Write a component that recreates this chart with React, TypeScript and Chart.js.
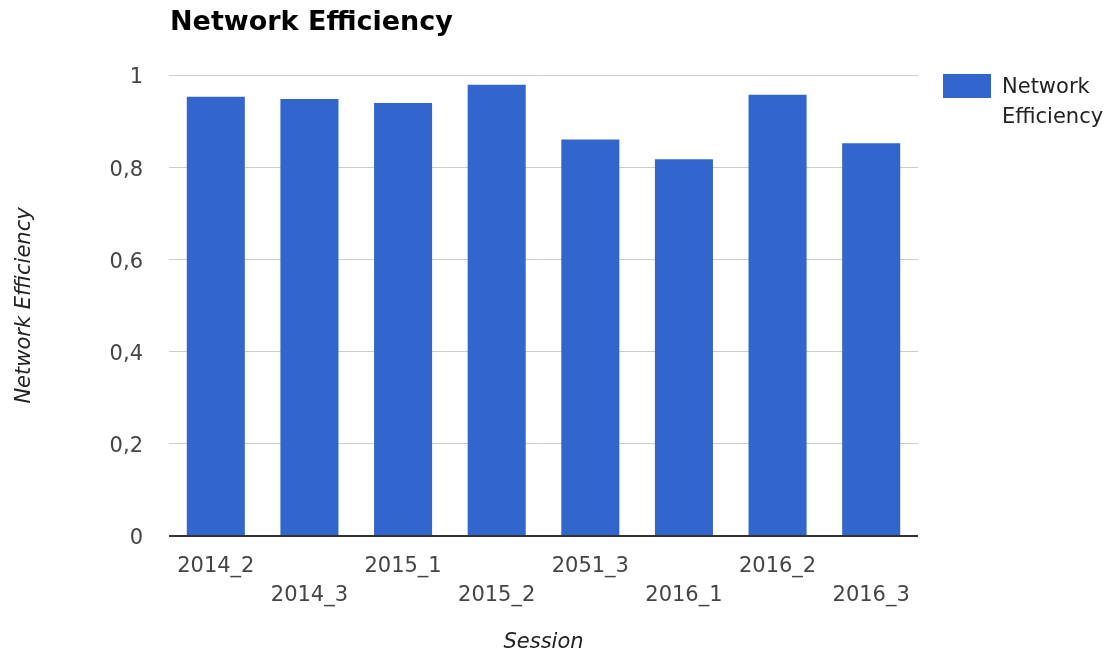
import React, { useEffect, useRef } from "react";
import { Chart, registerables } from "chart.js";

Chart.register(...registerables);

const chartTitle = "Network Efficiency";
const seriesName = "Network Efficiency";
const legendLines = ["Network", "Efficiency"];
const xAxisTitle = "Session";
const yAxisTitle = "Network Efficiency";
const sessions = ["2014_2", "2014_3", "2015_1", "2015_2", "2051_3", "2016_1", "2016_2", "2016_3"];
const efficiency = [0.953, 0.948, 0.939, 0.979, 0.86, 0.817, 0.957, 0.852];
const yTicks = [0, 0.2, 0.4, 0.6, 0.8, 1];

const FONT = "'DejaVu Sans', sans-serif";
const BAR_COLOR = "#3366cc";

const overlayPlugin = {
  id: "overlayText",
  afterDraw(chart: any) {
    const ctx = chart.ctx;
    ctx.save();
    // Title
    ctx.fillStyle = "#000000";
    ctx.font = `bold 27px ${FONT}`;
    ctx.textAlign = "left";
    ctx.textBaseline = "alphabetic";
    ctx.fillText(chartTitle, 170, 30);
    // Legend
    const ds = chart.data.datasets[0];
    ctx.fillStyle = ds.backgroundColor;
    ctx.fillRect(943, 74, 48, 24);
    ctx.fillStyle = "#222222";
    ctx.font = `21px ${FONT}`;
    legendLines.forEach((line, i) => {
      ctx.fillText(line, 1002, 93 + i * 30);
    });
    ctx.restore();
  },
};

export default function App() {
  const ref = useRef<HTMLCanvasElement | null>(null);
  useEffect(() => {
    document.body.style.margin = "0";
    const labels = sessions.map((s, i) => (i % 2 === 0 ? [s] : ["", s]));
    const chart = new Chart(ref.current as HTMLCanvasElement, {
      type: "bar",
      data: {
        labels,
        datasets: [
          {
            label: seriesName,
            data: efficiency,
            backgroundColor: BAR_COLOR,
            borderWidth: 0,
            barPercentage: 0.62,
            categoryPercentage: 1.0,
          },
        ],
      },
      options: {
        responsive: false,
        animation: false,
        layout: { padding: { top: 75, right: 191, left: 0, bottom: 0 } },
        plugins: {
          legend: { display: false },
          title: { display: false },
          tooltip: { enabled: false },
        },
        scales: {
          x: {
            grid: { display: false, drawTicks: false },
            border: { display: false },
            ticks: {
              autoSkip: false,
              maxRotation: 0,
              minRotation: 0,
              padding: 16,
              color: "#444444",
              font: { family: FONT, size: 21, lineHeight: 1.38 },
            },
            title: {
              display: true,
              text: xAxisTitle,
              color: "#222222",
              font: { family: FONT, size: 21, style: "italic" },
              padding: { top: 0, bottom: 2 },
            },
            afterFit(scale: any) {
              scale.height = 121;
            },
          },
          y: {
            min: 0,
            max: 1,
            afterBuildTicks(scale: any) {
              scale.ticks = yTicks.map((v) => ({ value: v }));
            },
            grid: {
              drawTicks: false,
              color: (c: any) => (c.tick && c.tick.value === 0 ? "#333333" : "#cccccc"),
              lineWidth: (c: any) => (c.tick && c.tick.value === 0 ? 2 : 1),
            },
            border: { display: false },
            ticks: {
              padding: 26,
              labelOffset: 3,
              color: "#444444",
              font: { family: FONT, size: 21 },
              callback: (v: any) => String(Math.round(Number(v) * 10) / 10).replace(".", ","),
            },
            title: {
              display: true,
              text: yAxisTitle,
              color: "#222222",
              font: { family: FONT, size: 21, style: "italic" },
              padding: { top: 12, bottom: 0 },
            },
            afterFit(scale: any) {
              scale.width = 169;
            },
          },
        },
      },
      plugins: [overlayPlugin],
    });
    return () => chart.destroy();
  }, []);
  return (
    <div style={{ width: 1109, height: 657, background: "#ffffff" }}>
      <canvas ref={ref} width={1109} height={657} />
    </div>
  );
}
